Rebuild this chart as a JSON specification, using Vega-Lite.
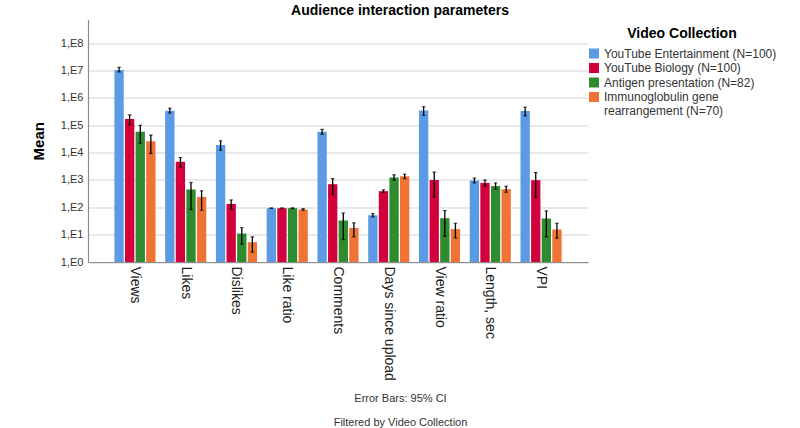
{
  "$schema": "https://vega.github.io/schema/vega-lite/v6.json",
  "width": 500,
  "height": 242.5,
  "autosize": {"type": "none"},
  "padding": {"left": 88, "top": 19.5, "right": 212, "bottom": 166},
  "background": "white",
  "config": {
    "font": "Liberation Sans",
    "view": {"stroke": null},
    "axis": {"gridColor": "#d3d3d3", "gridWidth": 1, "domainColor": "#8c8c8c", "domainWidth": 1.2}
  },
  "title": {
    "text": "Audience interaction parameters",
    "fontSize": 14,
    "fontWeight": "bold",
    "color": "#000000",
    "anchor": "middle",
    "frame": "group",
    "dx": 62,
    "offset": 2
  },
  "data": {
    "values": [
      {"param": "Views", "series": "YouTube Entertainment (N=100)", "mean": 10500000, "hi": 13200000, "lo": 8900000},
      {"param": "Views", "series": "YouTube Biology (N=100)", "mean": 170000, "hi": 240000, "lo": 102000},
      {"param": "Views", "series": "Antigen presentation (N=82)", "mean": 58000, "hi": 100000, "lo": 22000},
      {"param": "Views", "series": "Immunoglobulin gene rearrangement (N=70)", "mean": 26000, "hi": 44000, "lo": 9300},
      {"param": "Likes", "series": "YouTube Entertainment (N=100)", "mean": 340000, "hi": 420000, "lo": 280000},
      {"param": "Likes", "series": "YouTube Biology (N=100)", "mean": 4600, "hi": 6600, "lo": 3000},
      {"param": "Likes", "series": "Antigen presentation (N=82)", "mean": 450, "hi": 810, "lo": 83},
      {"param": "Likes", "series": "Immunoglobulin gene rearrangement (N=70)", "mean": 240, "hi": 400, "lo": 78},
      {"param": "Dislikes", "series": "YouTube Entertainment (N=100)", "mean": 19000, "hi": 27000, "lo": 12300},
      {"param": "Dislikes", "series": "YouTube Biology (N=100)", "mean": 133, "hi": 186, "lo": 85},
      {"param": "Dislikes", "series": "Antigen presentation (N=82)", "mean": 11, "hi": 18, "lo": 4.5},
      {"param": "Dislikes", "series": "Immunoglobulin gene rearrangement (N=70)", "mean": 5.3, "hi": 8.3, "lo": 2.3},
      {"param": "Like ratio", "series": "YouTube Entertainment (N=100)", "mean": 93, "hi": 95, "lo": 91},
      {"param": "Like ratio", "series": "YouTube Biology (N=100)", "mean": 93, "hi": 95, "lo": 91},
      {"param": "Like ratio", "series": "Antigen presentation (N=82)", "mean": 93, "hi": 96, "lo": 90},
      {"param": "Like ratio", "series": "Immunoglobulin gene rearrangement (N=70)", "mean": 83, "hi": 89, "lo": 78},
      {"param": "Comments", "series": "YouTube Entertainment (N=100)", "mean": 58000, "hi": 71000, "lo": 47000},
      {"param": "Comments", "series": "YouTube Biology (N=100)", "mean": 700, "hi": 1120, "lo": 295},
      {"param": "Comments", "series": "Antigen presentation (N=82)", "mean": 33, "hi": 62, "lo": 6.6},
      {"param": "Comments", "series": "Immunoglobulin gene rearrangement (N=70)", "mean": 17.6, "hi": 27, "lo": 8.3},
      {"param": "Days since upload", "series": "YouTube Entertainment (N=100)", "mean": 51, "hi": 59, "lo": 45},
      {"param": "Days since upload", "series": "YouTube Biology (N=100)", "mean": 390, "hi": 436, "lo": 347},
      {"param": "Days since upload", "series": "Antigen presentation (N=82)", "mean": 1230, "hi": 1550, "lo": 980},
      {"param": "Days since upload", "series": "Immunoglobulin gene rearrangement (N=70)", "mean": 1380, "hi": 1620, "lo": 1120},
      {"param": "View ratio", "series": "YouTube Entertainment (N=100)", "mean": 350000, "hi": 480000, "lo": 230000},
      {"param": "View ratio", "series": "YouTube Biology (N=100)", "mean": 1000, "hi": 1950, "lo": 240},
      {"param": "View ratio", "series": "Antigen presentation (N=82)", "mean": 40, "hi": 76, "lo": 8.7},
      {"param": "View ratio", "series": "Immunoglobulin gene rearrangement (N=70)", "mean": 16, "hi": 26, "lo": 7.6},
      {"param": "Length, sec", "series": "YouTube Entertainment (N=100)", "mean": 960, "hi": 1170, "lo": 780},
      {"param": "Length, sec", "series": "YouTube Biology (N=100)", "mean": 780, "hi": 1000, "lo": 600},
      {"param": "Length, sec", "series": "Antigen presentation (N=82)", "mean": 600, "hi": 780, "lo": 460},
      {"param": "Length, sec", "series": "Immunoglobulin gene rearrangement (N=70)", "mean": 460, "hi": 590, "lo": 355},
      {"param": "VPI", "series": "YouTube Entertainment (N=100)", "mean": 330000, "hi": 460000, "lo": 220000},
      {"param": "VPI", "series": "YouTube Biology (N=100)", "mean": 980, "hi": 1860, "lo": 230},
      {"param": "VPI", "series": "Antigen presentation (N=82)", "mean": 39, "hi": 74, "lo": 8.3},
      {"param": "VPI", "series": "Immunoglobulin gene rearrangement (N=70)", "mean": 15.4, "hi": 26, "lo": 7.4}
    ]
  },
  "encoding": {
    "x": {
      "field": "param",
      "type": "nominal",
      "sort": null,
      "scale": {"paddingInner": 0.19, "paddingOuter": 0.52},
      "axis": {
        "title": ["Error Bars: 95% CI", "Filtered by Video Collection"],
        "titleFontSize": 11,
        "titleFontWeight": "normal",
        "titleColor": "#333333",
        "titleLineHeight": 24.7,
        "titleX": 312,
        "titleY": 130,
        "titleAlign": "center",
        "titleBaseline": "top",
        "labelAngle": 90,
        "labelAlign": "left",
        "labelBaseline": "middle",
        "labelFontSize": 14,
        "labelColor": "#222222",
        "labelPadding": 4,
        "labelLimit": 200,
        "ticks": false,
        "grid": false
      }
    },
    "xOffset": {
      "field": "series",
      "type": "nominal",
      "sort": null,
      "scale": {"paddingInner": 0.12}
    }
  },
  "layer": [
    {
      "mark": {"type": "bar"},
      "encoding": {
        "y": {
          "field": "mean",
          "type": "quantitative",
          "scale": {"type": "log", "domain": [1, 740000000], "nice": false},
          "axis": {
            "title": "Mean",
            "titleFontSize": 15,
            "titleFontWeight": "bold",
            "titleColor": "#000000",
            "titlePadding": 14,
            "values": [1, 10, 100, 1000, 10000, 100000, 1000000, 10000000, 100000000],
            "labelExpr": "'1,E' + round(log(datum.value) / LN10)",
            "labelFontSize": 11,
            "labelColor": "#333333",
            "labelPadding": 5,
            "ticks": false,
            "grid": true
          }
        },
        "y2": {"datum": 1},
        "color": {
          "field": "series",
          "type": "nominal",
          "sort": null,
          "scale": {
            "domain": ["YouTube Entertainment (N=100)", "YouTube Biology (N=100)", "Antigen presentation (N=82)", "Immunoglobulin gene rearrangement (N=70)"],
            "range": ["#5b9be5", "#d2003c", "#2e8b2e", "#f07234"]
          },
          "legend": {
            "orient": "none",
            "legendX": 500,
            "legendY": 7,
            "title": "Video Collection",
            "titleFontSize": 14,
            "titleFontWeight": "bold",
            "titleColor": "#000000",
            "titleAnchor": "middle",
            "titlePadding": 7,
            "symbolType": "square",
            "symbolSize": 100,
            "symbolStrokeWidth": 0,
            "labelFontSize": 12,
            "labelColor": "#333333",
            "labelLimit": 300,
            "rowPadding": 2.5,
            "labelOffset": 4,
            "padding": 0,
            "labelExpr": "datum.label == 'Immunoglobulin gene rearrangement (N=70)' ? ['Immunoglobulin gene', 'rearrangement (N=70)'] : datum.label"
          }
        }
      }
    },
    {
      "mark": {"type": "rule", "color": "#000000", "strokeWidth": 1.3},
      "encoding": {
        "y": {"field": "lo", "type": "quantitative"},
        "y2": {"field": "hi"}
      }
    },
    {
      "mark": {"type": "tick", "color": "#000000", "size": 3.5, "thickness": 1.2},
      "encoding": {"y": {"field": "lo", "type": "quantitative"}}
    },
    {
      "mark": {"type": "tick", "color": "#000000", "size": 3.5, "thickness": 1.2},
      "encoding": {"y": {"field": "hi", "type": "quantitative"}}
    }
  ]
}
